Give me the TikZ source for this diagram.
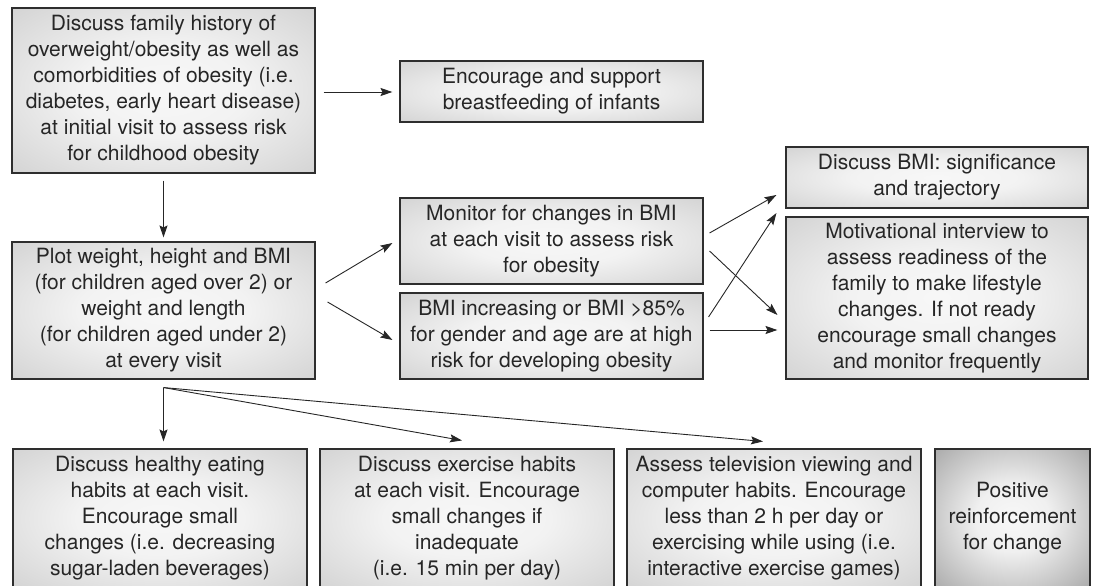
\documentclass[tikz,border=0pt]{standalone}
\usepackage{fontspec}
\setmainfont{TeX Gyre Heros}
\usetikzlibrary{arrows.meta,calc}
\pgfdeclareradialshading{boxshade}{\pgfpoint{0bp}{0bp}}{color(0bp)=(black!3); color(14bp)=(black!5); color(50bp)=(black!25); color(75bp)=(black!29)}
\pgfdeclareradialshading{darkshade}{\pgfpoint{0bp}{0bp}}{color(0bp)=(black!3); color(12bp)=(black!6); color(45bp)=(black!44); color(75bp)=(black!50)}
\tikzset{
  box/.style={draw=black!82, line width=1.1pt, shading=boxshade, align=center, inner sep=0pt,
    font=\fontsize{21}{26}\selectfont, text=black!85},
  darkbox/.style={box, shading=darkshade},
  arr/.style={-{Stealth[length=12pt,width=8pt,inset=2pt]}, line width=0.9pt, draw=black!85}
}
\begin{document}
\begin{tikzpicture}[x=1pt,y=-1pt]
\useasboundingbox (0,0) rectangle (1096,586);
\node[box, minimum width=303pt, minimum height=165pt] (A) at (163.5,90.5)
  {Discuss family history of\\overweight/obesity as well as\\comorbidities of obesity (i.e.\\diabetes, early heart disease)\\at initial visit to assess risk\\for childhood obesity};
\node[box, minimum width=303pt, minimum height=61pt] (B) at (551.5,91.5)
  {Encourage and support\\breastfeeding of infants};
\node[box, minimum width=303pt, minimum height=137pt] (C) at (163.5,310.5)
  {Plot weight, height and BMI\\(for children aged over 2) or\\weight and length\\(for children aged under 2)\\at every visit};
\node[box, minimum width=303pt, minimum height=86pt] (D) at (551.5,241)
  {Monitor for changes in BMI\\at each visit to assess risk\\for obesity};
\node[box, minimum width=303pt, minimum height=86pt] (E) at (551.5,336)
  {BMI increasing or BMI >85\%\\for gender and age are at high\\risk for developing obesity};
\node[box, minimum width=302pt, minimum height=61pt] (F) at (937,177.5)
  {Discuss BMI: significance\\and trajectory};
\node[box, minimum width=302pt, minimum height=162pt] (G) at (937,298)
  {Motivational interview to\\assess readiness of the\\family to make lifestyle\\changes. If not ready\\encourage small changes\\and monitor frequently};
\node[box, minimum width=294pt, minimum height=139pt] (H) at (160,518.5)
  {Discuss healthy eating\\habits at each visit.\\Encourage small\\changes (i.e. decreasing\\sugar-laden beverages)};
\node[box, minimum width=294pt, minimum height=139pt] (I) at (467,518.5)
  {Discuss exercise habits\\at each visit. Encourage\\small changes if\\inadequate\\(i.e. 15 min per day)};
\node[box, minimum width=294pt, minimum height=139pt] (J) at (774,518.5)
  {Assess television viewing and\\computer habits. Encourage\\less than 2 h per day or\\exercising while using (i.e.\\interactive exercise games)};
\node[darkbox, minimum width=155pt, minimum height=139pt] (K) at (1012.5,518.5)
  {Positive\\reinforcement\\for change};
\draw[arr] ($(A.east)+(8,1.5)$) -- ($(B.west)+(-7,0.5)$);
\draw[arr] ($(A.south)+(0,7)$) -- ($(C.north)+(0,-4)$);
\draw[arr] ($(C.east)+(10,-27.5)$) -- ($(D.west)+(-7,2)$);
\draw[arr] ($(C.east)+(12,-8.5)$) -- ($(E.west)+(-7,4)$);
\draw[arr] ($(D.east)+(6,-8)$) -- ($(F.west)+(-9,17.5)$);
\draw[arr] ($(D.east)+(6,10)$) -- ($(G.west)+(-8,17)$);
\draw[arr] ($(E.east)+(5,-19)$) -- ($(F.west)+(-9,35.5)$);
\draw[arr] ($(E.east)+(6,-6)$) -- ($(G.west)+(-8,32)$);
\coordinate (fan) at ($(C.south)+(0,8)$);
\draw[arr] (fan) -- ($(fan |- H.north)+(0,-7)$);
\draw[arr] (fan) -- ($(I.north)+(-5,-8)$);
\draw[arr] (fan) -- ($(J.north)+(-11,-7)$);
\end{tikzpicture}
\end{document}
